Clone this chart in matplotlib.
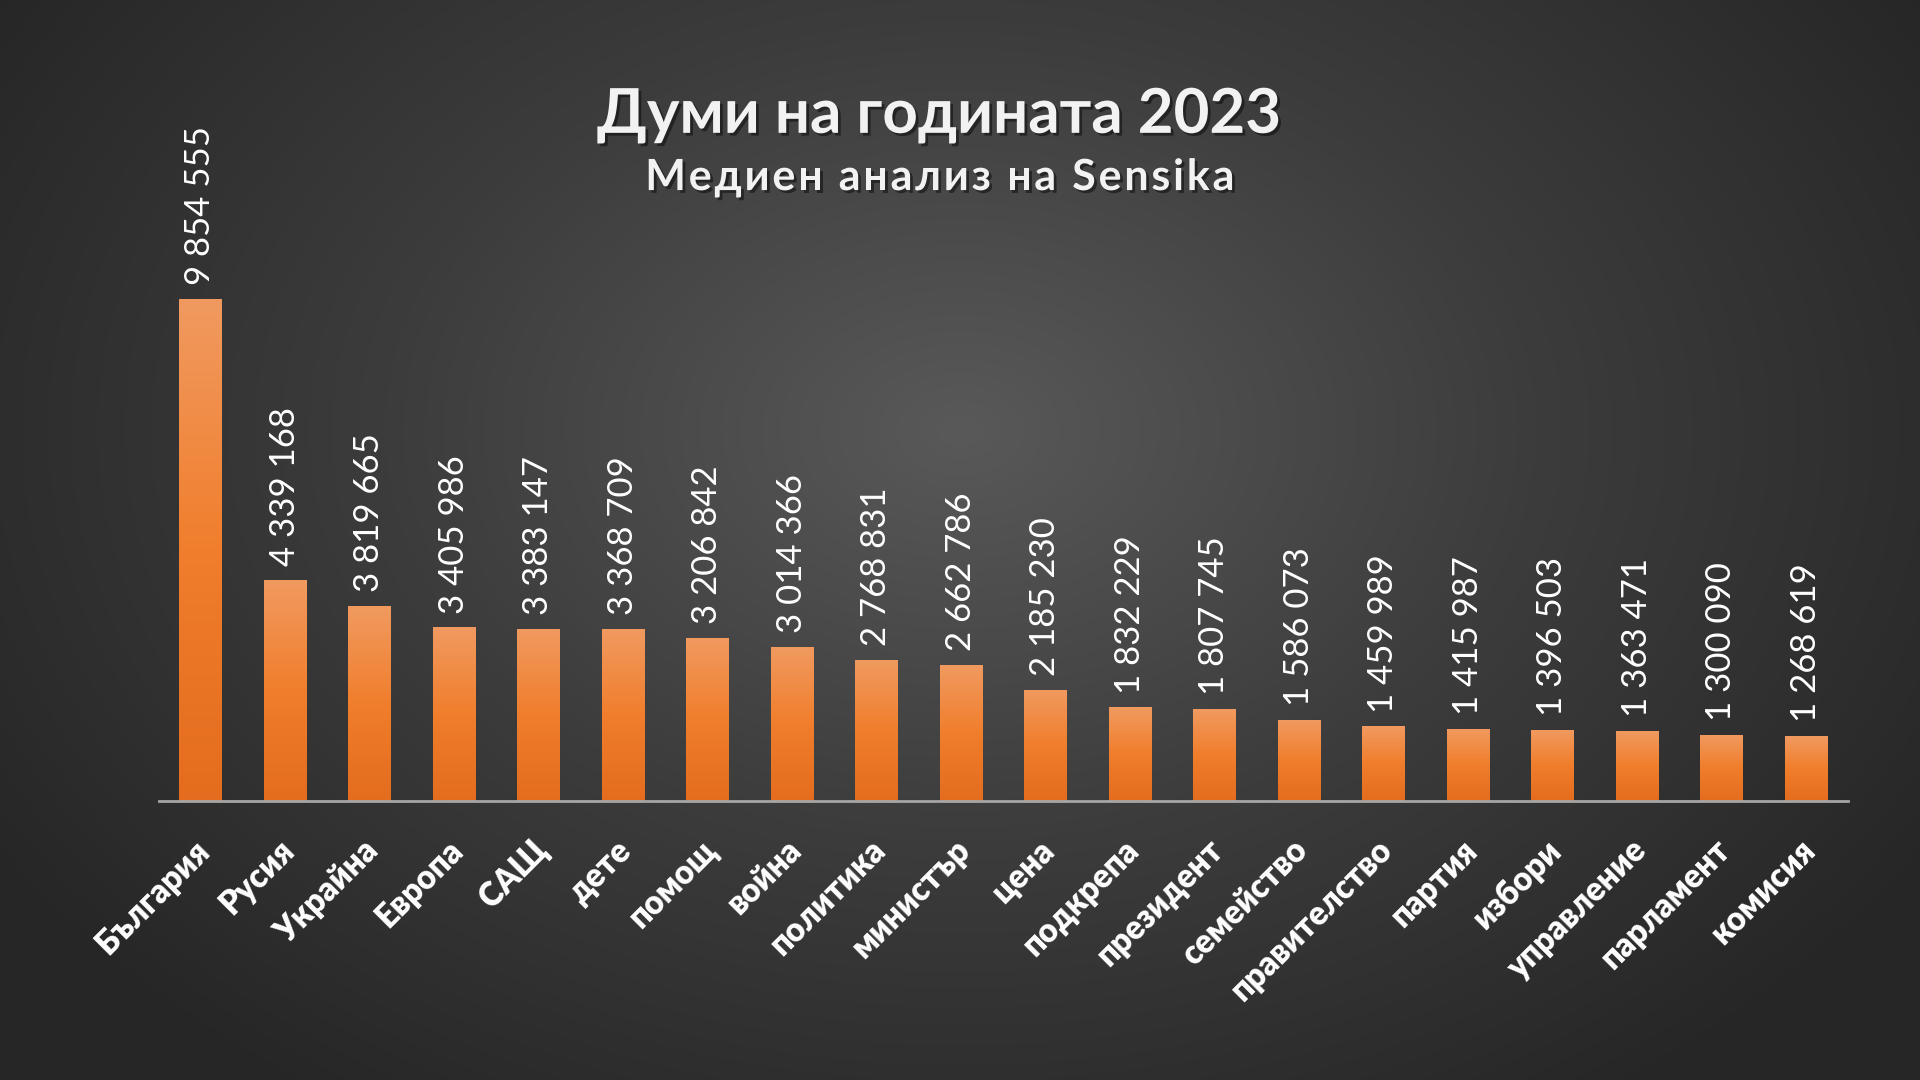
import numpy as np
import matplotlib
matplotlib.use("Agg")
import matplotlib.pyplot as plt
import matplotlib.patheffects as pe
from matplotlib import font_manager, ft2font
from matplotlib.colors import LinearSegmentedColormap
from matplotlib.transforms import ScaledTranslation

plt.rcParams['font.family'] = ['Lato', 'Open Sans', 'DejaVu Sans']

# данни
words = ['България', 'Русия', 'Украйна', 'Европа', 'САЩ', 'дете', 'помощ', 'война',
         'политика', 'министър', 'цена', 'подкрепа', 'президент', 'семейство',
         'правителство', 'партия', 'избори', 'управление', 'парламент', 'комисия']
mentions = [9854555, 4339168, 3819665, 3405986, 3383147, 3368709, 3206842, 3014366,
            2768831, 2662786, 2185230, 1832229, 1807745, 1586073,
            1459989, 1415987, 1396503, 1363471, 1300090, 1268619]

title = 'Думи на годината 2023'
subtitle = 'Медиен анализ на Sensika'

W, H, DPI = 1920, 1080, 100
fig = plt.figure(figsize=(W / DPI, H / DPI), dpi=DPI)

# фон - радиален градиент
bg = fig.add_axes([0, 0, 1, 1], zorder=0)
yy, xx = np.mgrid[0:H, 0:W]
r = np.sqrt(((xx - 960) / 1150.0) ** 2 + ((yy - 430) / 820.0) ** 2)
r = np.clip(r, 0, 1)
bg_cmap = LinearSegmentedColormap.from_list('bg', ['#595959', '#3c3c3c', '#262626'])
bg.imshow(r, cmap=bg_cmap, vmin=0, vmax=1, aspect='auto', extent=(0, 1, 0, 1),
          interpolation='bilinear')
bg.set_axis_off()

ax = fig.add_axes([0.0828, 0.2586, 0.8797, 0.7066], zorder=1)
ax.patch.set_alpha(0)

x = np.arange(len(words))
bars = ax.bar(x, mentions, width=0.5, color='#F07E2C', linewidth=0)

# градиент на стълбовете
bar_cmap = LinearSegmentedColormap.from_list('bar', ['#E46C1E', '#F07E2C', '#F19A60'])
grad = np.linspace(0, 1, 256).reshape(-1, 1)
for b in bars:
    bx, bw, bh = b.get_x(), b.get_width(), b.get_height()
    im = ax.imshow(grad, cmap=bar_cmap, aspect='auto', origin='lower',
                   extent=(bx, bx + bw, 0, bh), zorder=2)
    im.set_clip_path(b)

for xi, v in zip(x, mentions):
    label = f'{v:,}'.replace(',', ' ')
    ax.annotate(label, (xi, v), xytext=(0, 10), textcoords='offset points',
                rotation=90, ha='center', va='bottom', color='white', fontsize=25)

ax.set_xlim(-0.49, 19.5)
ax.set_ylim(0, 15e6)

for side in ['top', 'right', 'left']:
    ax.spines[side].set_visible(False)
ax.spines['bottom'].set_color('#a6a6a6')
ax.spines['bottom'].set_linewidth(2)
ax.spines['bottom'].set_zorder(3)
ax.set_yticks([])
ax.set_xticks(x)
ax.set_xticklabels(words, rotation=45, rotation_mode='anchor', ha='right', va='center',
                   color='white', fontsize=23.5, fontweight='heavy')
ax.tick_params(axis='x', length=0, pad=32)
shift = ScaledTranslation(4 / DPI, 0, fig.dpi_scale_trans)
for lbl in ax.get_xticklabels():
    lbl.set_transform(lbl.get_transform() + shift)

shadow = [pe.withSimplePatchShadow(offset=(2, -2), shadow_rgbFace='black', alpha=0.45)]
fig.text(0.4889, 0.877, title, ha='center', va='baseline', color='#f2f2f2',
         fontsize=44.5, fontweight='bold', path_effects=shadow)

# подзаглавие с разредени букви
sub_size = 31
sub_spacing = 2.8  # px между буквите
fpath = font_manager.findfont(font_manager.FontProperties(family='Lato', weight='bold'))
font = ft2font.FT2Font(fpath)
font.set_size(sub_size, DPI)
adv = [font.load_char(ord(c)).linearHoriAdvance / 65536 for c in subtitle]
total = sum(adv) + sub_spacing * (len(subtitle) - 1)
xpos = 0.4895 * W - total / 2
for c, a in zip(subtitle, adv):
    if c != ' ':
        fig.text(xpos / W, 0.824, c, ha='left', va='baseline', color='#f2f2f2',
                 fontsize=sub_size, fontweight='bold', path_effects=shadow)
    xpos += a + sub_spacing

fig.savefig('out.png', dpi=DPI)
